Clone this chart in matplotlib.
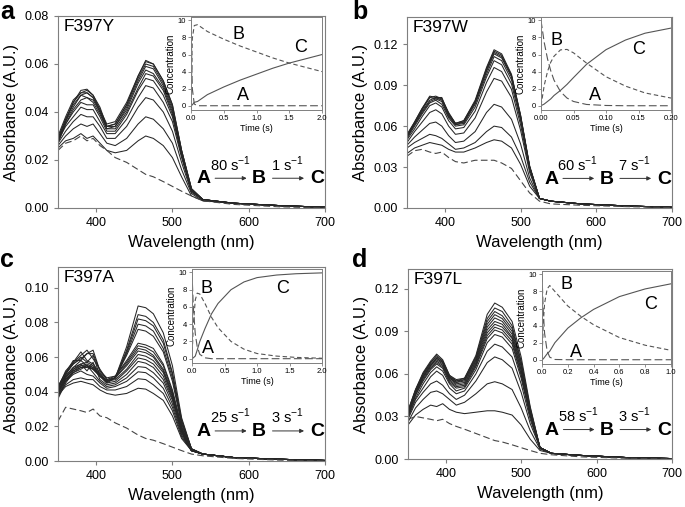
import numpy as np
import matplotlib
matplotlib.use('Agg')
import matplotlib.pyplot as plt
from matplotlib.ticker import FormatStrFormatter

plt.rcParams['font.family'] = ['Liberation Sans', 'DejaVu Sans']
plt.rcParams['mathtext.fontset'] = 'custom'
plt.rcParams['mathtext.rm'] = 'Liberation Sans'

# wavelength grid (nm) the spectra were read at
wavelength = [350, 360, 370, 380, 388, 396, 405, 414, 425, 440, 455, 465, 475, 488, 500, 512, 525, 540, 580, 640, 700]

# absorbance in mAU, one row per trace (lowest -> highest)
spec_a = [
    [25, 28, 29, 31, 29, 30, 27, 24, 23, 24, 28, 30, 29, 26, 21, 13, 5, 3, 2, 1, 0.3],
    [26, 30, 33, 35, 34, 35, 31, 27, 26, 29, 35, 38, 37, 33, 27, 16, 6, 3, 2, 1, 0.3],
    [27, 32, 36, 39, 38, 38, 34, 29, 29, 34, 42, 46, 45, 40, 32, 19, 6.5, 3.5, 2, 1, 0.3],
    [28, 34, 38, 42, 41, 41, 36, 31, 31, 37, 46, 51, 50, 44, 36, 21, 7, 3.5, 2, 1, 0.3],
    [28, 35, 40, 44, 43, 43, 38, 32, 32, 39, 49, 54, 53, 47, 38, 22, 7, 3.5, 2, 1, 0.3],
    [27, 35, 41, 45, 46, 44, 39, 33, 33, 40, 50, 56, 55, 49, 39, 22, 7.5, 3.5, 2, 1, 0.3],
    [28, 36, 42, 47, 46, 45, 40, 33, 34, 41, 52, 57.5, 56, 50, 40, 23, 7.5, 3.5, 2, 1, 0.3],
    [29, 37, 43, 47, 48, 46, 40, 34, 34, 42, 53, 59, 58, 51, 41, 23, 7.5, 3.5, 2, 1, 0.3],
    [28, 36, 44, 48, 49, 47, 41, 34, 35, 43, 54, 60, 59, 52, 42, 24, 8, 3.5, 2, 1, 0.3],
    [29, 37, 44, 49, 49.5, 47, 42, 34, 35, 43, 55, 61, 60, 53, 43, 24, 8, 3.5, 2, 1, 0.3],
    [30, 38, 45, 48, 48, 46, 41, 35, 36, 44, 55, 61.5, 60, 53, 43, 24, 8, 3.5, 2, 1, 0.3],
]
dash_a = [24, 27, 28, 30, 28, 29, 26, 24, 21, 19, 16, 14, 13, 11, 9, 7, 5, 3, 1.5, 0.5, 0]

spec_b = [
    [40, 44, 46, 48, 47, 46, 43, 41, 41, 44, 48, 50, 49, 44, 32, 16, 7, 5, 3, 1.5, 0.5],
    [44, 48, 51, 54, 53, 51, 47, 43, 44, 48, 56, 60, 59, 52, 38, 19, 7, 5, 3, 1.5, 0.5],
    [46, 52, 57, 62, 63, 60, 53, 48, 49, 56, 70, 76, 74, 65, 47, 22, 7, 5, 3, 1.5, 0.5],
    [48, 56, 63, 70, 72, 69, 60, 54, 55, 66, 85, 95, 93, 81, 57, 26, 7, 5, 3, 1.5, 0.5],
    [50, 58, 67, 75, 77, 74, 64, 58, 59, 71, 92, 103, 100, 87, 61, 28, 7, 5, 3, 1.5, 0.5],
    [51, 60, 69, 77, 79, 76, 66, 60, 61, 74, 96, 108, 105, 91, 64, 29, 7, 5, 3, 1.5, 0.5],
    [52, 61, 70, 78, 80, 78, 67, 61, 62, 76, 98, 111, 108, 94, 66, 30, 7, 5, 3, 1.5, 0.5],
    [53, 62, 71, 79, 81, 79, 68, 61, 63, 77, 100, 113, 110, 96, 67, 30, 7, 5, 3, 1.5, 0.5],
    [52, 62, 72, 81, 80, 80, 69, 62, 63, 78, 101, 114, 111, 97, 67, 30, 7, 5, 3, 1.5, 0.5],
    [53, 63, 73, 82, 81, 81, 69, 62, 64, 78, 102, 115, 112, 97, 68, 30, 7, 5, 3, 1.5, 0.5],
    [54, 63, 73, 81, 82, 80, 70, 62, 64, 79, 103, 116, 113, 98, 68, 31, 7, 5, 3, 1.5, 0.5],
]
dash_b = [38, 42, 43, 41, 40, 41, 37, 34, 33, 35, 35, 35, 33, 29, 20, 11, 5, 3, 2, 1, 0.3]

spec_c = [
    [38, 43, 45, 46, 45, 44, 41, 39, 38, 39, 42, 41.5, 39, 35, 26, 13, 6, 4, 2, 1, 0.3],
    [39, 44, 47, 48, 47, 47, 43, 41, 41, 43, 47.5, 47, 44, 39, 29, 14, 6, 4, 2, 1, 0.3],
    [40, 46, 50, 52, 50, 49, 45, 42, 43, 46, 51.5, 51, 48, 42, 31, 15, 6, 4, 2, 1, 0.3],
    [41, 47, 51, 53, 55, 51, 46, 43, 44, 48, 54.5, 54, 51, 45, 33, 16, 6, 4, 2, 1, 0.3],
    [40, 48, 53, 56, 52, 57, 47, 44, 45, 50, 57.5, 56.5, 54, 47, 35, 17, 6, 4, 2, 1, 0.3],
    [42, 49, 54, 58, 55, 53, 49, 45, 46, 52, 59.5, 58.5, 56, 49, 36, 17, 6, 4, 2, 1, 0.3],
    [41, 50, 56, 60, 57, 61, 49, 46, 47, 53, 61.5, 60.5, 58, 51, 37, 18, 6, 4, 2, 1, 0.3],
    [42, 50, 57, 63, 58, 56, 51, 46, 48, 55, 63.5, 62.5, 60, 52, 38, 18, 6, 4, 2, 1, 0.3],
    [43, 51, 58, 58, 62, 64, 52, 47, 48, 56, 65, 64, 61, 53, 39, 19, 6, 4, 2, 1, 0.3],
    [42, 52, 57, 61, 64, 59, 53, 47, 49, 57, 66.5, 65.5, 63, 55, 40, 19, 6, 4, 2, 1, 0.3],
    [43, 51, 56, 59, 62, 62, 52, 48, 49, 58, 68, 67, 65, 56, 41, 20, 6, 4, 2, 1, 0.3],
    [40, 49, 54, 56, 57, 55, 50, 46, 48, 61, 76, 75, 72, 63, 46, 21, 7, 4, 2, 1, 0.3],
    [39, 48, 53, 55, 56, 54, 50, 46, 48, 62, 79, 78, 75, 65, 48, 22, 7, 4, 2, 1, 0.3],
    [38, 47, 52, 55, 55, 54, 49, 46, 48, 63, 82, 81, 78, 68, 50, 23, 7, 4, 2, 1, 0.3],
    [37, 46, 52, 54, 55, 53, 49, 46, 48, 64, 84.5, 83.5, 80, 70, 51, 24, 7, 4, 2, 1, 0.3],
    [36, 45, 51, 54, 54, 53, 49, 45, 48, 66, 89.5, 88.5, 85, 74, 55, 25, 7, 4, 2, 1, 0.3],
]
dash_c = [23, 31, 30, 29, 28, 30, 26, 25, 22, 19, 15, 13, 12, 10, 8, 6, 4, 3, 1.5, 0.5, 0]

spec_d = [
    [24, 31, 35, 38, 37, 39, 35, 33, 32, 33, 34, 34, 33, 31, 24, 14, 6, 4, 2.5, 1, 0.3],
    [26, 36, 42, 47, 48, 46, 42, 38, 40, 46, 53, 54.5, 53, 49, 36, 20, 7, 4, 2.5, 1, 0.3],
    [28, 40, 47, 53, 55, 52, 46, 42, 45, 55, 68, 72, 70, 64, 47, 25, 8, 4, 2.5, 1, 0.3],
    [29, 42, 50, 58, 62, 59, 50, 46, 48, 60, 76, 81, 79, 72, 53, 28, 8, 4, 2.5, 1, 0.3],
    [30, 43, 53, 61, 65, 62, 53, 48, 50, 63, 82, 87.8, 86, 78, 57, 30, 8, 4, 2.5, 1, 0.3],
    [31, 45, 55, 63, 67, 64, 54, 50, 51, 65, 85, 91, 89, 81, 59, 31, 8, 4, 2.5, 1, 0.3],
    [31, 45, 56, 64, 68, 65, 55, 51, 52, 66, 87, 93, 91, 83, 60, 32, 8, 4, 2.5, 1, 0.3],
    [32, 46, 57, 65, 69, 66, 56, 52, 53, 67, 89, 95, 93, 85, 62, 32, 8, 4, 2.5, 1, 0.3],
    [32, 47, 58, 66, 70, 67, 57, 53, 54, 68, 91, 97, 95, 86, 63, 33, 8, 4, 2.5, 1, 0.3],
    [33, 47, 58, 66, 71, 68, 57, 54, 55, 69, 93, 99.5, 97, 88, 65, 34, 8, 4, 2.5, 1, 0.3],
    [33, 48, 59, 67, 71, 68, 58, 54, 56, 70, 95, 101.8, 99, 90, 66, 34, 8, 4, 2.5, 1, 0.3],
    [33, 48, 60, 68, 72, 69, 58, 55, 56, 71, 97, 104, 101, 92, 68, 35, 8, 4, 2.5, 1, 0.3],
    [34, 49, 60, 68, 73, 69, 59, 55, 57, 72, 99, 106.5, 104, 94, 69, 36, 8, 4, 2.5, 1, 0.3],
    [34, 49, 61, 69, 74, 70, 59, 56, 57, 73, 102, 110, 107, 97, 72, 37, 8, 4, 2.5, 1, 0.3],
]
dash_d = [28, 30, 29, 28, 27, 28, 25, 23, 21, 18, 15, 13, 12, 10, 8, 6, 4, 3, 1.5, 0.5, 0]

# inset kinetics (concentration of A, B, C vs time in s)
time_a = [0, 0.02, 0.05, 0.1, 0.25, 0.5, 0.75, 1.0, 1.25, 1.5, 1.75, 2.0]
conc_A_a = [10, 2.0, 0.2, 0, 0, 0, 0, 0, 0, 0, 0, 0]
conc_B_a = [0, 7.9, 9.4, 9.5, 8.7, 7.8, 7.0, 6.3, 5.6, 5.0, 4.5, 4.0]
conc_C_a = [0, 0.1, 0.4, 0.5, 1.3, 2.2, 3.0, 3.7, 4.4, 5.0, 5.5, 6.0]

time_b = [0, 0.005, 0.01, 0.015, 0.02, 0.03, 0.04, 0.05, 0.07, 0.1, 0.13, 0.16, 0.2]
conc_A_b = [10, 7.4, 5.5, 4.1, 3.0, 1.65, 0.9, 0.5, 0.15, 0.03, 0, 0, 0]
conc_B_b = [0, 2.4, 4.0, 5.1, 5.8, 6.55, 6.6, 6.2, 5.0, 3.4, 2.3, 1.5, 0.9]
conc_C_b = [0, 0.2, 0.5, 0.8, 1.2, 1.8, 2.5, 3.3, 4.85, 6.57, 7.7, 8.5, 9.1]

time_c = [0, 0.02, 0.05, 0.08, 0.12, 0.2, 0.3, 0.4, 0.6, 0.8, 1.0, 1.3, 1.6, 2.0]
conc_A_c = [10, 6.0, 2.9, 1.4, 0.5, 0.1, 0, 0, 0, 0, 0, 0, 0, 0]
conc_B_c = [0, 3.9, 6.8, 7.6, 7.5, 6.4, 4.8, 3.6, 2.0, 1.1, 0.6, 0.3, 0.15, 0.05]
conc_C_c = [0, 0.1, 0.3, 1.0, 2.0, 3.5, 5.2, 6.4, 8.0, 8.9, 9.4, 9.7, 9.85, 9.95]

time_d = [0, 0.01, 0.02, 0.04, 0.06, 0.1, 0.2, 0.3, 0.4, 0.6, 0.8, 1.0]
conc_A_d = [10, 5.6, 3.1, 1.0, 0.3, 0.03, 0, 0, 0, 0, 0, 0]
conc_B_d = [0, 4.3, 6.6, 8.3, 8.7, 8.0, 6.3, 5.1, 4.1, 2.6, 1.7, 1.1]
conc_C_d = [0, 0.1, 0.3, 0.7, 1.0, 2.0, 3.7, 4.9, 5.9, 7.4, 8.3, 8.9]

mutants = ['F397Y', 'F397W', 'F397A', 'F397L']
rate_1 = [80, 60, 25, 58]
rate_2 = [1, 7, 3, 3]

W, H = 685, 507
def rect(l, r, t, b):
    return [l / W, 1 - b / H, (r - l) / W, (b - t) / H]

panels = [
    dict(letter='a', name=mutants[0], spec=spec_a, dash=dash_a, ymax=0.08, ystep=0.02,
         main=rect(58, 325, 16, 208), ins=rect(191, 322, 17, 110),
         t=time_a, A=conc_A_a, B=conc_B_a, C=conc_C_a, tmax=2.0, tfmt='%.1f', tstep=0.5,
         lab=[(0.8, 1.2), (0.72, 8.4), (1.68, 6.8)], k1=rate_1[0], k2=rate_2[0],
         lpos=(0.0, 0.962)),
    dict(letter='b', name=mutants[1], spec=spec_b, dash=dash_b, ymax=0.14, ystep=0.03,
         main=rect(407, 672, 17, 208), ins=rect(541, 671, 17, 110),
         t=time_b, A=conc_A_b, B=conc_B_b, C=conc_C_b, tmax=0.2, tfmt='%.2f', tstep=0.05,
         lab=[(0.083, 1.2), (0.024, 7.6), (0.15, 6.6)], k1=rate_1[1], k2=rate_2[1],
         lpos=(0.514, 0.962)),
    dict(letter='c', name=mutants[2], spec=spec_c, dash=dash_c, ymax=0.112, ystep=0.02,
         main=rect(58, 325, 267, 461), ins=rect(192, 322, 269, 363),
         t=time_c, A=conc_A_c, B=conc_B_c, C=conc_C_c, tmax=2.0, tfmt='%.1f', tstep=0.5,
         lab=[(0.24, 1.2), (0.22, 8.1), (1.4, 8.1)], k1=rate_1[2], k2=rate_2[2],
         lpos=(0.0, 0.474)),
    dict(letter='d', name=mutants[3], spec=spec_d, dash=dash_d, ymax=0.134, ystep=0.03,
         main=rect(408, 672, 269, 459), ins=rect(542, 671, 271, 364),
         t=time_d, A=conc_A_d, B=conc_B_d, C=conc_C_d, tmax=1.0, tfmt='%.1f', tstep=0.2,
         lab=[(0.26, 0.9), (0.19, 8.8), (0.84, 6.5)], k1=rate_1[3], k2=rate_2[3],
         lpos=(0.514, 0.474)),
]

frame = '#7f7f7f'
fig = plt.figure(figsize=(6.85, 5.07), dpi=100)

for p in panels:
    ax = fig.add_axes(p['main'])
    for row in p['spec']:
        ax.plot(wavelength, np.array(row) / 1000, color='#262626', lw=0.75)
    ax.plot(wavelength, np.array(p['dash']) / 1000, color='#444444', lw=0.8, dashes=(6, 3))
    ax.set_xlim(350, 700)
    ax.set_ylim(0, p['ymax'])
    ax.set_xticks([400, 500, 600, 700])
    ax.set_yticks(np.arange(0, p['ymax'] + 1e-9, p['ystep']))
    ax.yaxis.set_major_formatter(FormatStrFormatter('%.2f'))
    ax.tick_params(direction='out', length=3, width=0.8, color=frame, labelsize=9)
    for s in ax.spines.values():
        s.set_color(frame)
        s.set_linewidth(0.8)
    ax.set_xlabel('Wavelength (nm)', fontsize=12)
    ax.set_ylabel('Absorbance (A.U.)', fontsize=12, labelpad=4)
    ax.text(0.02, 0.985, p['name'], transform=ax.transAxes, fontsize=12.5, va='top')

    # reaction scheme A -> B -> C
    tr = ax.transAxes
    for x, s in zip([0.545, 0.753, 0.972], 'ABC'):
        ax.text(x, 0.128, s, transform=tr, fontsize=14, fontweight='bold', ha='center', va='baseline')
    ax.annotate('', xy=(0.717, 0.155), xytext=(0.578, 0.155), xycoords=tr,
                arrowprops=dict(arrowstyle='-|>', lw=0.7, color='#333333', mutation_scale=6))
    ax.annotate('', xy=(0.932, 0.155), xytext=(0.793, 0.155), xycoords=tr,
                arrowprops=dict(arrowstyle='-|>', lw=0.7, color='#333333', mutation_scale=6))
    ax.text(0.645, 0.195, '%d s$^{-1}$' % p['k1'], transform=tr, fontsize=10.5, ha='center', va='baseline')
    ax.text(0.858, 0.195, '%d s$^{-1}$' % p['k2'], transform=tr, fontsize=10.5, ha='center', va='baseline')

    fig.text(p['lpos'][0], p['lpos'][1], p['letter'], fontsize=18, fontweight='bold', va='baseline')

    # inset: concentration profiles
    ins = fig.add_axes(p['ins'])
    ins.plot(p['t'], p['A'], color='#555555', lw=0.8, dashes=(7, 3))
    ins.plot(p['t'], p['B'], color='#555555', lw=0.8, dashes=(4, 2.5))
    ins.plot(p['t'], p['C'], color='#555555', lw=0.8)
    ins.set_xlim(0, p['tmax'])
    ins.set_ylim(-0.5, 10.4)
    ins.set_yticks([0, 2, 4, 6, 8, 10])
    ins.set_xticks(np.arange(0, p['tmax'] + 1e-9, p['tstep']))
    ins.xaxis.set_major_formatter(FormatStrFormatter(p['tfmt']))
    ins.tick_params(direction='out', length=2, width=0.6, color=frame, labelsize=5.5, pad=1.5)
    for s in ins.spines.values():
        s.set_color(frame)
        s.set_linewidth(0.7)
    ins.set_xlabel('Time (s)', fontsize=6.5, labelpad=1.5)
    ins.set_ylabel('Concentration', fontsize=7, labelpad=1.5)
    for (x, y), s in zip(p['lab'], ['A', 'B', 'C']):
        ins.text(x, y, s, fontsize=13, ha='center', va='center')

fig.savefig('out.png', dpi=100)
